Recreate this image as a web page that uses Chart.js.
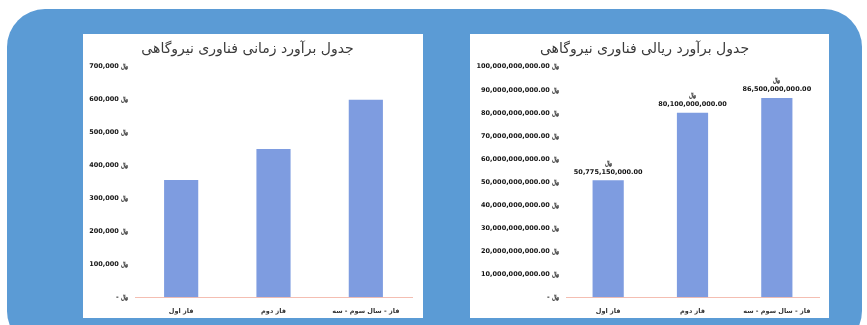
<!DOCTYPE html>
<html>
<head>
<meta charset="utf-8">
<script src="https://cdn.jsdelivr.net/npm/chart.js@4.4.1/dist/chart.umd.min.js"></script>
<style>
  html, body { margin: 0; padding: 0; background: #fff; }
  body { width: 867px; height: 325px; position: relative; overflow: hidden; }
  #frame {
    position: absolute; left: 7px; top: 9px; width: 855px; height: 340px;
    background: #5b9bd5; border-radius: 38px;
  }
  .panel { position: absolute; background: #fff; }
  #panelTime { left: 83px; top: 34px; width: 340px; height: 284px; }
  #panelCost { left: 470px; top: 34px; width: 359px; height: 284px; }
</style>
</head>
<body>
<div id="frame"></div>
<div class="panel" id="panelTime"><canvas id="timeChart" width="340" height="284"></canvas></div>
<div class="panel" id="panelCost"><canvas id="costChart" width="359" height="284"></canvas></div>
<script>
const phases = ['فاز اول', 'فاز دوم', 'فاز - سال سوم - سه'];
const timeValues = [356000, 450000, 600000];
const costValues = [50775150000, 80100000000, 86500000000];
const timeTitle = 'جدول برآورد زمانی فناوری نیروگاهی';
const costTitle = 'جدول برآورد ریالی فناوری نیروگاهی';
const rial = '﷼';

const barColor = 'rgb(126, 156, 224)';
const faFont = '"DejaVu Sans", sans-serif';

function money(v, decimals) {
  if (v === 0) return '- ' + rial;
  return v.toLocaleString('en-US', { minimumFractionDigits: decimals, maximumFractionDigits: decimals }) + ' ' + rial;
}

// two-line value label above each bar: rial sign, then the amount
const barLabels = {
  id: 'barLabels',
  afterDatasetsDraw(chart) {
    const ctx = chart.ctx;
    const meta = chart.getDatasetMeta(0);
    ctx.save();
    ctx.fillStyle = '#111';
    ctx.textAlign = 'center';
    ctx.textBaseline = 'bottom';
    meta.data.forEach((bar, i) => {
      const v = chart.data.datasets[0].data[i];
      ctx.font = 'bold 6.5px ' + faFont;
      ctx.fillText(v.toLocaleString('en-US', { minimumFractionDigits: 2 }), bar.x, bar.y - 5);
      ctx.fillText(rial, bar.x, bar.y - 14);
    });
    ctx.restore();
  }
};

function makeChart(id, title, values, max, step, decimals, yWidth, padRight, withLabels) {
  return new Chart(document.getElementById(id), {
    type: 'bar',
    data: {
      labels: phases,
      datasets: [{
        data: values,
        backgroundColor: barColor,
        categoryPercentage: 1,
        barPercentage: 0.37
      }]
    },
    options: {
      responsive: false,
      animation: false,
      layout: { padding: { left: 0, right: padRight, top: 4, bottom: 1 } },
      plugins: {
        legend: { display: false },
        tooltip: { enabled: false },
        title: {
          display: true,
          text: title,
          color: '#3a3a3a',
          font: { family: faFont, size: 14, weight: 'normal' },
          padding: { top: 3, bottom: 9 }
        }
      },
      scales: {
        x: {
          grid: { display: false },
          border: { color: 'rgb(244, 190, 178)' },
          ticks: { color: '#333', font: { family: faFont, size: 6.5, weight: 'bold' }, padding: 2 }
        },
        y: {
          min: 0, max: max,
          grid: { display: false, drawTicks: false },
          border: { display: false },
          afterFit(scale) { scale.width = yWidth; },
          ticks: {
            stepSize: step,
            color: '#111',
            padding: 7,
            font: { family: faFont, size: 6.5, weight: 'bold' },
            callback: v => money(v, decimals)
          }
        }
      }
    },
    plugins: withLabels ? [barLabels] : []
  });
}

makeChart('timeChart', timeTitle, timeValues, 700000, 100000, 0, 52, 11, false);
makeChart('costChart', costTitle, costValues, 100000000000, 10000000000, 2, 96, 10, true);
</script>
</body>
</html>
